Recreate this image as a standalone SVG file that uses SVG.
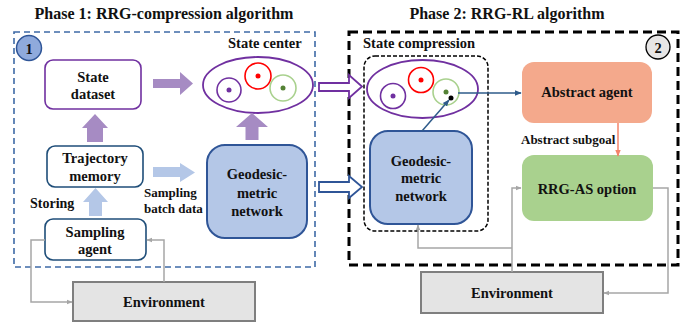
<svg xmlns="http://www.w3.org/2000/svg" width="690" height="322" viewBox="0 0 690 322">
  <defs>
    <style>
      text { font-family: "Liberation Serif", "Times New Roman", serif; font-weight: bold; fill: #111; }
      .title { font-size: 16px; }
      .lbl { font-size: 14.5px; text-anchor: middle; }
      .sm { font-size: 13px; }
      .box { stroke-width: 1.6; }
      .gray { fill: none; stroke: #A6A6A6; stroke-width: 1.5; marker-end: url(#ahGray); }
      .blue { fill: none; stroke: #2E5B8A; stroke-width: 1.5; marker-end: url(#ahBlue); }
      .fatP { fill: #A68BC3; }
      .fatB { fill: #B4C7E7; }
    </style>
    <marker id="ahGray" viewBox="0 0 10 10" refX="9" refY="5" markerWidth="6" markerHeight="6" markerUnits="userSpaceOnUse" orient="auto">
      <path d="M0,1 L10,5 L0,9 z" fill="#A6A6A6"/>
    </marker>
    <marker id="ahBlue" viewBox="0 0 10 10" refX="9" refY="5" markerWidth="7" markerHeight="7" markerUnits="userSpaceOnUse" orient="auto">
      <path d="M0,1 L10,5 L0,9 z" fill="#2E5B8A"/>
    </marker>
    <marker id="ahOrange" viewBox="0 0 10 10" refX="9" refY="5" markerWidth="7" markerHeight="7" markerUnits="userSpaceOnUse" orient="auto">
      <path d="M0,1 L10,5 L0,9 z" fill="#F4836A"/>
    </marker>
  </defs>

  <rect width="690" height="322" fill="#FFFFFF"/>

  <!-- Titles -->
  <text class="title" x="164" y="19" text-anchor="middle">Phase 1: RRG-compression algorithm</text>
  <text class="title" x="507" y="19" text-anchor="middle">Phase 2: RRG-RL algorithm</text>

  <!-- Phase frames -->
  <g id="phase1-frame">
    <rect x="14" y="32" width="301" height="235" fill="none" stroke="#3E6AA6" stroke-width="1.6" stroke-dasharray="6 4"/>
    <circle cx="29" cy="48" r="12.5" fill="#8FAADC" stroke="#2F5597" stroke-width="1.5"/>
    <text x="29" y="53.5" class="lbl">1</text>
    <text x="228" y="48" font-size="14.5">State center</text>
  </g>
  <g id="phase2-frame">
    <rect x="349" y="32" width="329" height="233" fill="none" stroke="#000" stroke-width="3" stroke-dasharray="9 5"/>
    <circle cx="658" cy="47" r="12" fill="#E7E6E6" stroke="#000" stroke-width="1.3"/>
    <text x="658" y="52.5" class="lbl">2</text>
    <text x="363" y="48" font-size="14.5">State compression</text>
  </g>
  <g id="state-compression-frame">
    <rect x="364" y="56" width="124" height="175" rx="11" fill="none" stroke="#000" stroke-width="1.5" stroke-dasharray="4 2"/>
  </g>

  <!-- Nodes: phase 1 -->
  <g id="state-dataset">
    <rect x="45" y="60" width="96" height="49" rx="8" fill="#FFF" stroke="#7030A0" class="box"/>
    <text x="93" y="82" class="lbl">State</text>
    <text x="93" y="99" class="lbl">dataset</text>
  </g>
  <g id="state-center">
    <ellipse cx="258" cy="85" rx="55" ry="28" fill="#FFF" stroke="#7030A0" stroke-width="1.8"/>
    <circle cx="229" cy="90" r="12" fill="none" stroke="#7030A0" stroke-width="1.6"/>
    <circle cx="229" cy="90" r="2.5" fill="#7030A0"/>
    <circle cx="258" cy="76" r="13" fill="none" stroke="#FF0000" stroke-width="1.6"/>
    <circle cx="258" cy="76" r="2.5" fill="#FF0000"/>
    <circle cx="283" cy="88" r="13" fill="none" stroke="#A9D18E" stroke-width="1.6"/>
    <circle cx="283" cy="88" r="2.5" fill="#548235"/>
  </g>
  <g id="trajectory-memory">
    <rect x="47" y="146" width="96" height="41" rx="8" fill="#FFF" stroke="#1F4E79" class="box"/>
    <text x="95" y="163" class="lbl">Trajectory</text>
    <text x="95" y="181" class="lbl">memory</text>
  </g>
  <g id="sampling-agent">
    <rect x="45" y="219" width="101" height="41" rx="8" fill="#FFF" stroke="#1F4E79" class="box"/>
    <text x="95" y="237" class="lbl">Sampling</text>
    <text x="95" y="254" class="lbl">agent</text>
  </g>
  <g id="geodesic-network-1">
    <rect x="207" y="145" width="100" height="93" rx="18" fill="#B4C7E7" stroke="#2F5597" stroke-width="2"/>
    <text x="257" y="179" class="lbl">Geodesic-</text>
    <text x="257" y="198" class="lbl">metric</text>
    <text x="257" y="216" class="lbl">network</text>
  </g>
  <g id="environment-1">
    <rect x="73" y="282" width="182" height="39" fill="#E4E4E4" stroke="#7F7F7F" stroke-width="2"/>
    <text x="164" y="307" class="lbl">Environment</text>
  </g>

  <!-- Nodes: phase 2 -->
  <g id="state-center-2">
    <ellipse cx="422.5" cy="89" rx="55.5" ry="29" fill="#FFF" stroke="#7030A0" stroke-width="1.8"/>
    <circle cx="393" cy="96" r="12.5" fill="none" stroke="#7030A0" stroke-width="1.6"/>
    <circle cx="393" cy="96" r="2.5" fill="#7030A0"/>
    <circle cx="421" cy="80" r="12.5" fill="none" stroke="#FF0000" stroke-width="1.6"/>
    <circle cx="421" cy="80" r="2.5" fill="#FF0000"/>
    <circle cx="446" cy="92" r="13" fill="none" stroke="#A9D18E" stroke-width="1.6"/>
    <circle cx="446" cy="92" r="2.5" fill="#548235"/>
    <circle cx="451" cy="98" r="2.5" fill="#000"/>
  </g>
  <g id="geodesic-network-2">
    <rect x="370" y="131" width="102" height="93" rx="18" fill="#B4C7E7" stroke="#2F5597" stroke-width="2"/>
    <text x="421" y="166" class="lbl">Geodesic-</text>
    <text x="421" y="183" class="lbl">metric</text>
    <text x="421" y="201" class="lbl">network</text>
  </g>
  <g id="abstract-agent">
    <rect x="522" y="62" width="130" height="61" rx="12" fill="#F4A98C"/>
    <text x="587" y="97" class="lbl">Abstract agent</text>
  </g>
  <g id="rrg-as-option">
    <rect x="522" y="155" width="131" height="66" rx="12" fill="#A9D18E"/>
    <text x="587" y="194" class="lbl">RRG-AS option</text>
  </g>
  <g id="environment-2">
    <rect x="421" y="272" width="182" height="41" fill="#E4E4E4" stroke="#7F7F7F" stroke-width="2"/>
    <text x="512" y="298" class="lbl">Environment</text>
  </g>

  <!-- Connectors -->
  <g id="connectors">
    <!-- block arrows, phase 1 -->
    <polygon class="fatP" points="153,79 180,79 180,72 193,83.5 180,95 180,88 153,88"/>
    <polygon class="fatP" points="95,114 108,128 103,128 103,142 87,142 87,128 82,128"/>
    <polygon class="fatP" points="252,113 268,127 258.5,127 258.5,140 245.5,140 245.5,127 236,127"/>
    <polygon class="fatB" points="95.5,188 108,202 102,202 102,216 89,216 89,202 83,202"/>
    <polygon class="fatB" points="153,167 180,167 180,163 195,172.5 180,182 180,177 153,177"/>
    <text x="144" y="197" class="sm">Sampling</text>
    <text x="144" y="213" class="sm">batch data</text>
    <text x="30" y="208" font-size="14">Storing</text>

    <!-- hollow arrows into phase 2 -->
    <polygon points="319,83 349,83 349,75 362,86.5 349,98 349,91 319,91" fill="#FFF" stroke="#7030A0" stroke-width="1.8"/>
    <polygon points="319,182 349,182 349,176 362,187 349,198 349,192 319,192" fill="#FFF" stroke="#2F5597" stroke-width="1.8"/>

    <!-- environment loops -->
    <path class="gray" d="M45,240 H31 V302 H72"/>
    <path class="gray" d="M164,282 V240 H147"/>
    <path class="gray" d="M512,272 V188 H521"/>
    <path class="gray" d="M512,248 H418 V225"/>
    <path class="gray" d="M653,188 H668 V293 H604"/>

    <!-- phase 2 links -->
    <path class="blue" d="M422,131 L449,100"/>
    <path class="blue" d="M458,93 H521"/>
    <path d="M618,123 V156" fill="none" stroke="#F4836A" stroke-width="1.5" marker-end="url(#ahOrange)"/>
    <text x="521" y="144" class="sm">Abstract subgoal</text>
  </g>
</svg>
